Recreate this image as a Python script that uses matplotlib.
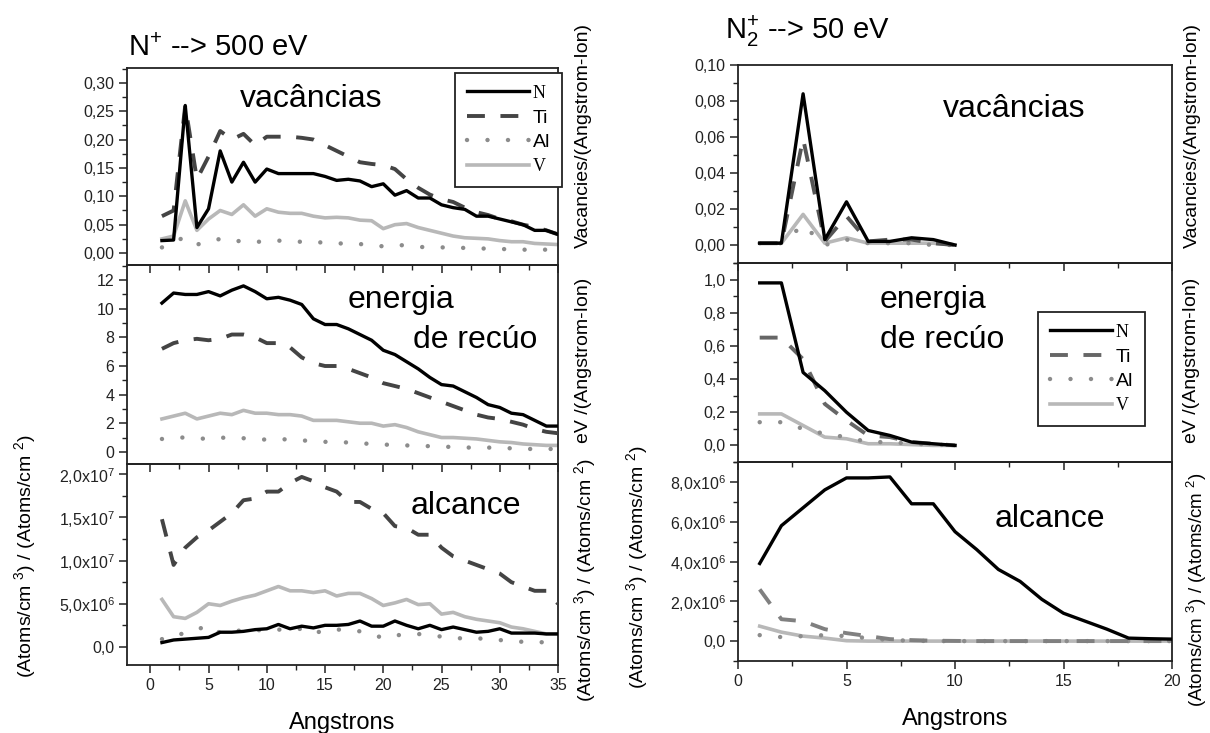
import numpy as np
import matplotlib
matplotlib.use("Agg")
import matplotlib.pyplot as plt
from matplotlib.ticker import MultipleLocator, FuncFormatter

plt.rcParams['font.family'] = ['Liberation Sans', 'DejaVu Sans']
plt.rcParams['mathtext.fontset'] = 'custom'
plt.rcParams['mathtext.rm'] = 'Liberation Sans'
plt.rcParams['mathtext.it'] = 'Liberation Sans:italic'
plt.rcParams['mathtext.bf'] = 'Liberation Sans:bold'

# ---- N+ --> 500 eV (depth 1..35 A) ----
depth_500 = np.arange(1, 36)

vac_500_N = [0.022, 0.023, 0.26, 0.045, 0.078, 0.18, 0.125, 0.16, 0.125, 0.148,
             0.14, 0.14, 0.14, 0.14, 0.135, 0.128, 0.13, 0.127, 0.117, 0.122,
             0.102, 0.11, 0.097, 0.097, 0.085, 0.08, 0.077, 0.065, 0.065, 0.06,
             0.055, 0.05, 0.04, 0.04, 0.033]
vac_500_Ti = [0.065, 0.075, 0.26, 0.13, 0.17, 0.215, 0.2, 0.21, 0.19, 0.205,
              0.205, 0.205, 0.203, 0.2, 0.19, 0.18, 0.17, 0.16, 0.157, 0.155,
              0.148, 0.13, 0.115, 0.103, 0.095, 0.09, 0.08, 0.072, 0.067, 0.06,
              0.056, 0.05, 0.046, 0.04, 0.033]
vac_500_Al = [0.01, 0.02, 0.028, 0.015, 0.02, 0.025, 0.02, 0.022, 0.02, 0.02,
              0.022, 0.02, 0.02, 0.02, 0.018, 0.018, 0.015, 0.016, 0.013, 0.012,
              0.015, 0.013, 0.011, 0.01, 0.01, 0.01, 0.009, 0.008, 0.008, 0.007,
              0.007, 0.006, 0.006, 0.006, 0.005]
vac_500_V = [0.025, 0.03, 0.092, 0.04, 0.06, 0.075, 0.068, 0.085, 0.065, 0.078,
             0.072, 0.07, 0.07, 0.065, 0.062, 0.063, 0.062, 0.058, 0.057, 0.043,
             0.05, 0.052, 0.045, 0.04, 0.035, 0.03, 0.027, 0.026, 0.025, 0.022,
             0.02, 0.02, 0.017, 0.016, 0.015]

rec_500_N = [10.4, 11.1, 11.0, 11.0, 11.2, 10.9, 11.3, 11.6, 11.2, 10.7,
             10.8, 10.6, 10.3, 9.3, 8.9, 8.9, 8.6, 8.2, 7.8, 7.1,
             6.8, 6.3, 5.8, 5.2, 4.7, 4.6, 4.2, 3.8, 3.3, 3.1,
             2.7, 2.6, 2.2, 1.8, 1.8]
rec_500_Ti = [7.2, 7.6, 7.8, 7.9, 7.8, 7.9, 8.2, 8.2, 8.0, 7.6,
              7.6, 7.3, 6.6, 6.2, 6.0, 6.0, 5.8, 5.5, 5.2, 4.8,
              4.6, 4.4, 4.1, 3.8, 3.5, 3.2, 2.9, 2.6, 2.4, 2.3,
              2.1, 1.9, 1.6, 1.4, 1.3]
rec_500_Al = [0.9, 1.0, 1.0, 0.95, 0.9, 1.0, 0.95, 0.95, 0.9, 0.85,
              0.9, 0.85, 0.8, 0.75, 0.7, 0.7, 0.65, 0.6, 0.55, 0.5,
              0.5, 0.45, 0.4, 0.4, 0.35, 0.35, 0.3, 0.3, 0.3, 0.25,
              0.25, 0.2, 0.2, 0.2, 0.2]
rec_500_V = [2.3, 2.5, 2.7, 2.3, 2.5, 2.7, 2.6, 2.9, 2.7, 2.7,
             2.6, 2.6, 2.5, 2.2, 2.2, 2.2, 2.1, 2.0, 2.0, 1.8,
             1.9, 1.7, 1.4, 1.2, 1.0, 1.0, 0.95, 0.9, 0.8, 0.7,
             0.65, 0.55, 0.5, 0.45, 0.45]

rng_500_N = [0.5e6, 0.8e6, 0.9e6, 1.0e6, 1.1e6, 1.7e6, 1.7e6, 1.8e6, 2.0e6, 2.1e6,
             2.6e6, 2.1e6, 2.4e6, 2.2e6, 2.5e6, 2.5e6, 2.6e6, 3.0e6, 2.4e6, 2.4e6,
             3.0e6, 2.5e6, 2.1e6, 2.5e6, 2.0e6, 2.3e6, 2.0e6, 1.7e6, 1.8e6, 2.1e6,
             1.6e6, 1.6e6, 1.6e6, 1.5e6, 1.5e6]
rng_500_Ti = [14.8e6, 9.5e6, 11.5e6, 12.7e6, 13.5e6, 14.5e6, 15.5e6, 17.0e6, 17.2e6, 18.0e6,
              18.0e6, 19.0e6, 19.7e6, 19.2e6, 18.5e6, 18.0e6, 16.8e6, 16.8e6, 16.0e6, 15.5e6,
              14.0e6, 13.8e6, 13.0e6, 13.0e6, 11.5e6, 10.5e6, 10.0e6, 9.5e6, 9.0e6, 8.5e6,
              7.5e6, 7.0e6, 6.5e6, 6.5e6, 5.0e6]
rng_500_Al = [0.9e6, 1.5e6, 1.5e6, 2.0e6, 2.5e6, 1.6e6, 1.7e6, 2.0e6, 2.0e6, 1.8e6,
              2.0e6, 2.0e6, 2.1e6, 1.5e6, 2.0e6, 2.0e6, 2.0e6, 1.8e6, 1.5e6, 1.0e6,
              1.3e6, 1.5e6, 1.5e6, 1.3e6, 1.2e6, 1.0e6, 1.0e6, 1.0e6, 0.9e6, 0.8e6,
              0.6e6, 0.6e6, 0.6e6, 0.5e6, 0.5e6]
rng_500_V = [5.5e6, 3.5e6, 3.3e6, 4.0e6, 5.0e6, 4.8e6, 5.3e6, 5.7e6, 6.0e6, 6.5e6,
             7.0e6, 6.5e6, 6.5e6, 6.3e6, 6.5e6, 5.9e6, 6.2e6, 6.2e6, 5.6e6, 4.8e6,
             5.1e6, 5.5e6, 4.9e6, 5.0e6, 3.8e6, 4.0e6, 3.5e6, 3.2e6, 3.0e6, 2.8e6,
             2.3e6, 2.1e6, 1.8e6, 1.5e6, 1.5e6]

# ---- N2+ --> 50 eV ----
depth_50 = np.arange(1, 11)
vac_50_N = [0.001, 0.001, 0.084, 0.003, 0.024, 0.002, 0.002, 0.004, 0.003, 0.0]
vac_50_Ti = [0.001, 0.001, 0.059, 0.002, 0.016, 0.002, 0.003, 0.003, 0.001, 0.0]
vac_50_Al = [0.001, 0.001, 0.011, 0.0, 0.003, 0.001, 0.001, 0.001, 0.0, 0.0]
vac_50_V = [0.001, 0.001, 0.017, 0.001, 0.004, 0.001, 0.001, 0.001, 0.001, 0.0]

rec_50_N = [0.98, 0.98, 0.44, 0.33, 0.2, 0.09, 0.06, 0.02, 0.01, 0.0]
rec_50_Ti = [0.65, 0.65, 0.52, 0.25, 0.15, 0.06, 0.05, 0.02, 0.01, 0.0]
rec_50_Al = [0.14, 0.14, 0.1, 0.07, 0.05, 0.02, 0.02, 0.01, 0.005, 0.0]
rec_50_V = [0.19, 0.19, 0.12, 0.05, 0.04, 0.01, 0.01, 0.005, 0.0, 0.0]

depth_50r = np.arange(1, 21)
rng_50_N = [3.9e6, 5.8e6, 6.7e6, 7.6e6, 8.2e6, 8.2e6, 8.25e6, 6.9e6, 6.9e6, 5.5e6,
            4.6e6, 3.6e6, 3.0e6, 2.1e6, 1.4e6, 1.0e6, 0.6e6, 0.15e6, 0.12e6, 0.1e6]
rng_50_Ti = [2.6e6, 1.1e6, 1.0e6, 0.6e6, 0.4e6, 0.25e6, 0.1e6, 0.05e6, 0.02e6, 0.01e6,
             0.0, 0.0, 0.0, 0.0, 0.0, 0.0, 0.0, 0.0, 0.0, 0.0]
rng_50_Al = [0.3e6, 0.2e6, 0.25e6, 0.3e6, 0.25e6, 0.15e6, 0.05e6, 0.02e6, 0.0, 0.0,
             0.0, 0.0, 0.0, 0.0, 0.0, 0.0, 0.0, 0.0, 0.0, 0.0]
rng_50_V = [0.75e6, 0.45e6, 0.25e6, 0.15e6, 0.02e6, 0.0, 0.0, 0.0, 0.0, 0.0,
            0.0, 0.0, 0.0, 0.0, 0.0, 0.0, 0.0, 0.0, 0.0, 0.0]

W, H = 1210, 733


def box(x0, y0, x1, y1):
    # pixel box (top-left origin) -> figure rect
    return [x0 / W, 1 - y1 / H, (x1 - x0) / W, (y1 - y0) / H]


def fpos(x, y):
    return x / W, 1 - y / H


def comma(fmt):
    return FuncFormatter(lambda v, p: (fmt % v).replace('.', ','))


def sci(v, p):
    if abs(v) < 1e-9:
        return '0,0'
    e = int(np.floor(np.log10(abs(v)) + 1e-9))
    m = v / 10 ** e
    return ('%.1f' % m).replace('.', ',') + r'x10$^{%d}$' % e


def draw(ax, x, n, ti, al, v, ti_col):
    ax.plot(x, v, color='#b8b8b8', lw=2.6, label='V', zorder=2)
    ax.plot(x, al, color='#8c8c8c', lw=3.2, dashes=(0.01, 4.6),
            dash_capstyle='round', label='Al', zorder=2)
    ax.plot(x, ti, color=ti_col, lw=2.8, dashes=(4.6, 4.0), label='Ti', zorder=3)
    ax.plot(x, n, color='black', lw=2.4, label='N', zorder=4)


def setup(ax, xmaj, ymaj, ymin):
    ax.set_facecolor('none')
    for s in ax.spines.values():
        s.set_linewidth(1.3)
        s.set_color('#222222')
    ax.xaxis.set_major_locator(MultipleLocator(xmaj))
    ax.xaxis.set_minor_locator(MultipleLocator(xmaj / 2))
    ax.yaxis.set_major_locator(MultipleLocator(ymaj))
    ax.yaxis.set_minor_locator(MultipleLocator(ymin))
    ax.tick_params(which='major', direction='out', length=6, width=1.1,
                   labelsize=11.5, colors='#222222', pad=3)
    ax.tick_params(which='minor', direction='out', length=3.5, width=1.0,
                   colors='#222222')


def legend(ax, anchor):
    hs, ls = ax.get_legend_handles_labels()
    order = [ls.index(k) for k in ['N', 'Ti', 'Al', 'V']]
    leg = ax.legend([hs[i] for i in order], [ls[i] for i in order],
                    loc='upper left', bbox_to_anchor=anchor, fontsize=14,
                    frameon=True, fancybox=False, framealpha=1,
                    edgecolor='#222222', handlelength=3.2, handletextpad=0.2,
                    labelspacing=0.35, borderpad=0.6, borderaxespad=0)
    leg.get_frame().set_linewidth(1.3)
    for t in leg.get_texts():
        if t.get_text() in ('N', 'V'):
            t.set_family('Liberation Serif')
            t.set_fontsize(13)
    return leg


fig = plt.figure(figsize=(W / 100, H / 100), dpi=100)

# left column
aL1 = fig.add_axes(box(127, 68, 558, 265))
aL2 = fig.add_axes(box(127, 265, 558, 464))
aL3 = fig.add_axes(box(127, 464, 558, 665))
# right column
aR1 = fig.add_axes(box(738, 65, 1172, 263))
aR2 = fig.add_axes(box(738, 263, 1172, 462))
aR3 = fig.add_axes(box(738, 462, 1172, 661))

draw(aL1, depth_500, vac_500_N, vac_500_Ti, vac_500_Al, vac_500_V, '#444444')
draw(aL2, depth_500, rec_500_N, rec_500_Ti, rec_500_Al, rec_500_V, '#444444')
draw(aL3, depth_500, rng_500_N, rng_500_Ti, rng_500_Al, rng_500_V, '#444444')
draw(aR1, depth_50, vac_50_N, vac_50_Ti, vac_50_Al, vac_50_V, '#555555')
draw(aR2, depth_50, rec_50_N, rec_50_Ti, rec_50_Al, rec_50_V, '#666666')
draw(aR3, depth_50r, rng_50_N, rng_50_Ti, rng_50_Al, rng_50_V, '#808080')

setup(aL1, 5, 0.05, 0.025)
setup(aL2, 5, 2, 1)
setup(aL3, 5, 5e6, 2.5e6)
setup(aR1, 5, 0.02, 0.01)
setup(aR2, 5, 0.2, 0.1)
setup(aR3, 5, 2e6, 1e6)

for a in (aL1, aL2, aL3):
    a.set_xlim(-2, 35)
for a in (aR1, aR2, aR3):
    a.set_xlim(0, 20)

aL1.set_ylim(-0.021, 0.326)
aL2.set_ylim(-0.85, 13.06)
aL3.set_ylim(-2.1e6, 2.12e7)
aR1.set_ylim(-0.01, 0.10)
aR2.set_ylim(-0.10, 1.10)
aR3.set_ylim(-1.0e6, 9.0e6)

aL1.yaxis.set_major_formatter(comma('%.2f'))
aL2.yaxis.set_major_formatter(FuncFormatter(lambda v, p: '%d' % round(v)))
aL3.yaxis.set_major_formatter(FuncFormatter(sci))
aR1.yaxis.set_major_formatter(comma('%.2f'))
aR2.yaxis.set_major_formatter(comma('%.1f'))
aR3.yaxis.set_major_formatter(FuncFormatter(sci))

for a in (aL1, aL2, aR1, aR2):
    a.tick_params(axis='x', which='both', labelbottom=False)

for a in (aL3, aR3):
    a.set_xlabel('Angstrons', fontsize=17, labelpad=14)

legend(aL1, (0.761, 0.975))
legend(aR2, (0.691, 0.754))

# panel captions
cap = dict(fontsize=23, color='black')
fig.text(*fpos(240, 107), 'vacâncias', va='baseline', **cap)
fig.text(*fpos(348, 308), 'energia', va='baseline', **cap)
fig.text(*fpos(413, 348), 'de recúo', va='baseline', **cap)
fig.text(*fpos(411, 514), 'alcance', va='baseline', **cap)
fig.text(*fpos(943, 117), 'vacâncias', va='baseline', **cap)
fig.text(*fpos(880, 308), 'energia', va='baseline', **cap)
fig.text(*fpos(880, 348), 'de recúo', va='baseline', **cap)
fig.text(*fpos(995, 527), 'alcance', va='baseline', **cap)

# titles
fig.text(*fpos(128, 56), r'N$^{+}$ --> 500 eV', fontsize=21, va='baseline')
fig.text(*fpos(725, 39), r'N$_{2}^{+}$ --> 50 eV', fontsize=21, va='baseline')

# side labels
atoms = r'(Atoms/cm $^{3}$) / (Atoms/cm $^{2}$)'
side = dict(rotation=90, ha='center', va='center', fontsize=14)
fig.text(*fpos(583, 135), 'Vacancies/(Angstrom-Ion)', **side)
fig.text(*fpos(583, 360), 'eV /(Angstrom-Ion)', **side)
fig.text(*fpos(585, 580), atoms, **side)
fig.text(*fpos(1192, 135), 'Vacancies/(Angstrom-Ion)', **side)
fig.text(*fpos(1192, 360), 'eV /(Angstrom-Ion)', **side)
fig.text(*fpos(1197, 590), atoms, fontsize=13.5, rotation=90, ha='center', va='center')
fig.text(*fpos(25, 556), atoms, **side)
fig.text(*fpos(637, 567), atoms, **side)

fig.savefig('out.png', dpi=100)
